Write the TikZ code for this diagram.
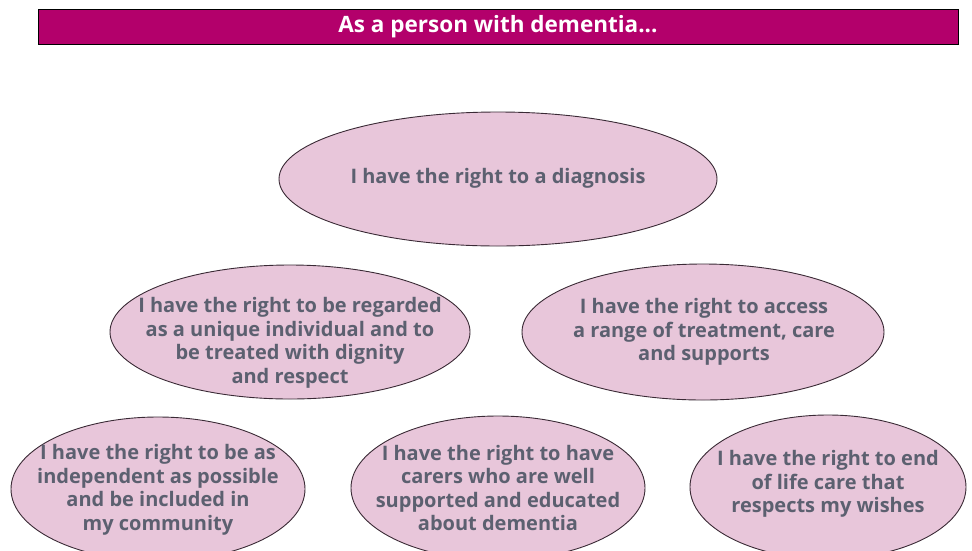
\documentclass[tikz,border=0pt]{standalone}
\usepackage{fontspec}
\setmainfont{Open Sans}
\usepackage{tikz}
\usetikzlibrary{shapes.geometric}

\definecolor{barmag}{HTML}{B3006B}
\definecolor{pinkfill}{HTML}{E8C6DA}
\definecolor{ringline}{HTML}{3A2A35}
\definecolor{greytext}{HTML}{5C6070}

\begin{document}
\begin{tikzpicture}[x=1pt, y=-1pt,
    bar/.style = {draw=black, fill=barmag, line width=0.8pt, minimum width=920pt, minimum height=35pt, inner sep=0pt},
    pill/.style = {draw=ringline, fill=pinkfill, ellipse, line width=0.9pt, inner sep=0pt},
    words/.style = {align=center, text=greytext, font=\bfseries\fontsize{20}{23.5}\selectfont, inner sep=0pt}]
                        \useasboundingbox (0,0) rectangle (972,550);
                        \clip (0,0) rectangle (972,550);

                        \node[bar] (head) at (498,26.5) {};
                        \node[text=white, font=\bfseries\fontsize{22.5}{24}\selectfont] (headtext) at (head) {As a person with dementia...};

                        \node[pill, minimum width=438pt, minimum height=134pt] (A) at (498,179) {};
                        \node[pill, minimum width=360pt, minimum height=134pt] (B) at (290,332) {};
                        \node[pill, minimum width=362pt, minimum height=136pt] (C) at (703,332) {};
                        \node[pill, minimum width=294pt, minimum height=144pt] (D) at (158,489) {};
                        \node[pill, minimum width=294pt, minimum height=144pt] (E) at (498,488) {};
                        \node[pill, minimum width=276pt, minimum height=144pt] (F) at (828,487) {};

                        \node[words] (Atext) at (498,178) {I have the right to a diagnosis};
                        \node[words] (Btext) at (290,343) {I have the right to be regarded\\as a unique individual and to\\be treated with dignity\\and respect};
                        \node[words] (Ctext) at (704,332) {I have the right to access\\a range of treatment, care\\and supports};
                        \node[words] (Dtext) at (158,490) {I have the right to be as\\independent as possible\\and be included in\\my community};
                        \node[words] (Etext) at (498,488) {I have the right to have\\carers who are well\\supported and educated\\about dementia};
                        \node[words] (Ftext) at (828,484) {I have the right to end\\of life care that\\respects my wishes};
                    \end{tikzpicture}
\end{document}
